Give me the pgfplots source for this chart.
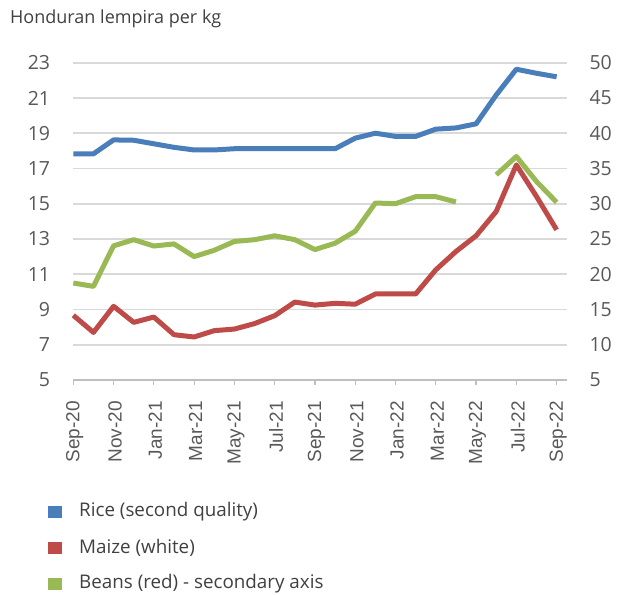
\documentclass[border=0pt]{standalone}
\usepackage{fontspec}
\setmainfont{Open Sans}
\newfontfamily\xfont{Liberation Sans}
\usepackage{pgfplots}
\pgfplotsset{compat=1.18}
\definecolor{rice}{HTML}{4A7EBB}
\definecolor{maize}{HTML}{BE4B48}
\definecolor{beans}{HTML}{98B954}
\definecolor{gridc}{HTML}{D9D9D9}
\definecolor{axc}{HTML}{BFBFBF}
\definecolor{txt}{HTML}{595959}
\definecolor{legt}{HTML}{404040}
\pgfplotstableread{
i rice maize beans
0 17.83 8.67 18.75
1 17.83 7.70 18.28
2 18.62 9.18 24.03
3 18.60 8.27 24.90
4 18.40 8.57 24.00
5 18.20 7.57 24.30
6 18.05 7.44 22.50
7 18.05 7.80 23.40
8 18.12 7.89 24.65
9 18.12 8.20 24.90
10 18.12 8.65 25.45
11 18.12 9.42 24.90
12 18.12 9.25 23.50
13 18.12 9.35 24.40
14 18.72 9.30 26.10
15 19.00 9.88 30.10
16 18.82 9.88 30.00
17 18.82 9.88 31.00
18 19.23 11.25 31.00
19 19.30 12.29 30.25
20 19.53 13.18 nan
21 21.17 14.56 34.10
22 22.63 17.20 36.70
23 22.40 15.41 33.15
24 22.20 13.52 30.20
}\datatable
\begin{document}
\begin{tikzpicture}[x=1pt,y=1pt]
\path[use as bounding box] (-73.3,-214) rectangle (554.7,380);
\begin{axis}[at={(0,0)}, anchor=south west, scale only axis,
 width=493.4pt, height=317.3pt,
 xmin=0, xmax=24.5, ymin=5, ymax=23,
 ytick={5,7,...,23},
 xtick={0,2,...,24},
 xticklabels={Sep-20,Nov-20,Jan-21,Mar-21,May-21,Jul-21,Sep-21,Nov-21,Jan-22,Mar-22,May-22,Jul-22,Sep-22},
 axis x line*=bottom, axis y line*=left,
 x axis line style={draw=axc, line width=1.5pt, -},
 y axis line style={draw=none},
 xtick align=outside, ytick align=inside,
 major tick length=5pt,
 xtick style={draw=axc, line width=1.2pt},
 ytick style={draw=none},
 ymajorgrids, grid style={draw=gridc, line width=1.8pt},
 x tick label style={rotate=90, anchor=east, inner sep=0pt, xshift=-16pt, yshift=-1.5pt, font=\xfont\fontsize{19}{21}\selectfont, text=txt},
 y tick label style={anchor=east, inner sep=0pt, xshift=-23pt, font=\fontsize{19.5}{22}\selectfont, text=txt},
 /pgf/number format/assume math mode=true,
 unbounded coords=jump,
 clip=false,
]
\addplot[rice, line width=5pt, line join=round] table[x=i, y=rice] {\datatable};
\addplot[maize, line width=5pt, line join=round] table[x=i, y=maize] {\datatable};
\end{axis}
\begin{axis}[at={(0,0)}, anchor=south west, scale only axis,
 width=493.4pt, height=317.3pt,
 xmin=0, xmax=24.5, ymin=5, ymax=50,
 ytick={5,10,...,50},
 axis x line=none, axis y line*=right,
 y axis line style={draw=none},
 ytick style={draw=none},
 y tick label style={anchor=west, inner sep=0pt, xshift=22.6pt, font=\fontsize{19.5}{22}\selectfont, text=txt},
 /pgf/number format/assume math mode=true,
 unbounded coords=jump,
 clip=false,
]
\addplot[beans, line width=5pt, line join=round] table[x=i, y=beans] {\datatable};
\end{axis}
\node[anchor=west, inner sep=0pt, font=\fontsize{18}{21}\selectfont, text=legt] at (-63.3,361) {Honduran lempira per kg};
\foreach \c/\l/\yy in {rice/Rice (second quality)/512, maize/Maize (white)/548, beans/Beans (red) - secondary axis/584}{
  \fill[\c] (-25,380-\yy-6) rectangle ++(14,12);
  \node[anchor=west, inner sep=0pt, font=\fontsize{18.8}{22}\selectfont, text=legt] at (5.7,380-\yy) {\l};
}
\end{tikzpicture}
\end{document}
